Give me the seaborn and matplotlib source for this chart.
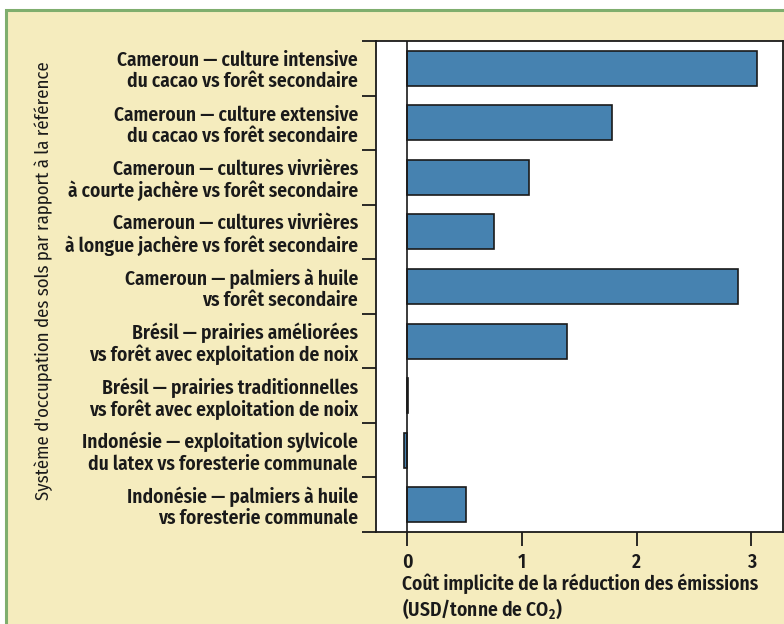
import matplotlib
matplotlib.use("Agg")
import matplotlib.pyplot as plt
import seaborn as sns
import numpy as np
from matplotlib.patches import Rectangle
from matplotlib.ticker import FixedLocator

categories = [
    "Cameroun — culture intensive\ndu cacao vs forêt secondaire",
    "Cameroun — culture extensive\ndu cacao vs forêt secondaire",
    "Cameroun — cultures vivrières\nà courte jachère vs forêt secondaire",
    "Cameroun — cultures vivrières\nà longue jachère vs forêt secondaire",
    "Cameroun — palmiers à huile\nvs forêt secondaire",
    "Brésil — prairies améliorées\nvs forêt avec exploitation de noix",
    "Brésil — prairies traditionnelles\nvs forêt avec exploitation de noix",
    "Indonésie — exploitation sylvicole\ndu latex vs foresterie communale",
    "Indonésie — palmiers à huile\nvs foresterie communale",
]
values = [3.05, 1.785, 1.06, 0.76, 2.88, 1.395, 0.006, -0.03, 0.51]
xticks = [0, 1, 2, 3]
xlabel_l1 = "Coût implicite de la réduction des émissions"
xlabel_l2 = "(USD/tonne de CO$_2$)"
ylabel = "Système d'occupation des sols par rapport à la référence"

sns.set_theme(style="white")
FONT = ['Fira Sans Condensed', 'PT Sans Narrow', 'Liberation Sans', 'DejaVu Sans']
plt.rcParams['font.family'] = FONT
plt.rcParams['mathtext.fontset'] = 'custom'
plt.rcParams['mathtext.rm'] = 'Fira Sans Condensed:weight=600'
plt.rcParams['mathtext.it'] = 'Fira Sans Condensed:weight=600'
plt.rcParams['mathtext.bf'] = 'Fira Sans Condensed:weight=600'

W, H = 784, 624
TXT = "#1a1a1a"
FS = 14
fig = plt.figure(figsize=(W/100, H/100), dpi=100)
fig.patch.set_facecolor("white")
fig.patches.append(Rectangle((6/W, -0.05), 1.1, 1 - 10/H + 0.05, transform=fig.transFigure,
                             facecolor="#f5ecbe", edgecolor="#7fae6e", linewidth=2.2, zorder=-10))

ax = fig.add_axes([376/W, 1 - 532/H, (783.5 - 376)/W, (532 - 41)/H])
ax.set_facecolor("white")

sns.barplot(x=values, y=categories, orient="h", color="#4682b0", edgecolor=TXT,
            linewidth=1.2, width=0.64, saturation=1, ax=ax)

ax.axvline(0, color=TXT, linewidth=1.2, zorder=1)
ax.set_xlim(-0.27, 3.28)
n = len(categories)
ax.set_ylim(n - 0.5, -0.5)

ax.set_xticks(xticks)
ax.set_xticklabels([str(t) for t in xticks], fontsize=FS, fontweight=600, color=TXT)
ax.yaxis.set_minor_locator(FixedLocator(np.arange(-0.5, n, 1.0)))
ax.tick_params(axis="y", which="major", length=0, pad=13)
ax.tick_params(axis="y", which="minor", length=10, width=1.3, color=TXT, left=True)
ax.tick_params(axis="x", which="major", length=10, width=1.3, color=TXT, bottom=True, pad=5)
for lab in ax.get_yticklabels():
    lab.set_fontsize(FS)
    lab.set_fontweight(600)
    lab.set_color(TXT)
    lab.set_linespacing(1.1)

for s in ax.spines.values():
    s.set_color(TXT)
    s.set_linewidth(1.3)

ax.set_ylabel("")
ax.set_xlabel("")
fig.text(402/W, 1 - 584/H, xlabel_l1, ha="left", va="center", fontsize=FS, fontweight=600, color=TXT)
fig.text(402/W, 1 - 609/H, xlabel_l2, ha="left", va="center", fontsize=FS, fontweight=600, color=TXT)
fig.text(44/W, 1 - 281/H, ylabel, ha="center", va="center", rotation=90, fontsize=13.5,
         fontweight=400, color=TXT)

fig.savefig("out.png", dpi=100, facecolor=fig.get_facecolor())
